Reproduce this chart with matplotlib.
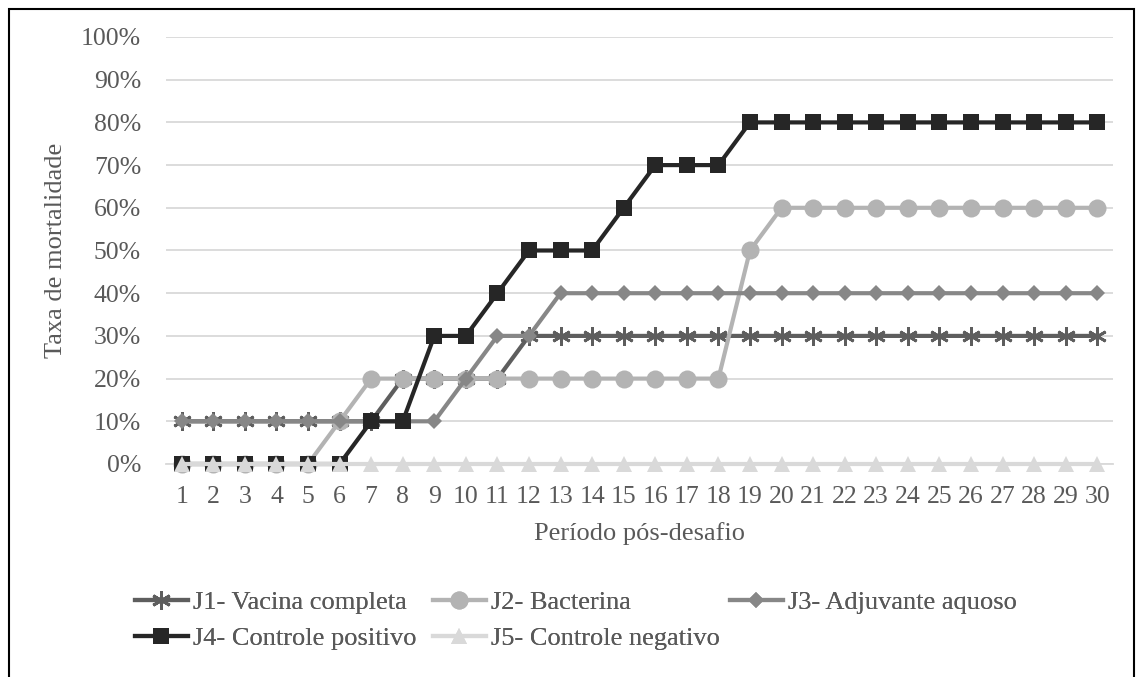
import matplotlib
matplotlib.use("Agg")
import matplotlib.pyplot as plt
from matplotlib.patches import Rectangle
from matplotlib.ticker import PercentFormatter

days = list(range(1, 31))
j1 = [10, 10, 10, 10, 10, 10, 10, 20, 20, 20, 20, 30, 30, 30, 30, 30, 30, 30, 30, 30,
      30, 30, 30, 30, 30, 30, 30, 30, 30, 30]
j2 = [0, 0, 0, 0, 0, 10, 20, 20, 20, 20, 20, 20, 20, 20, 20, 20, 20, 20, 50, 60,
      60, 60, 60, 60, 60, 60, 60, 60, 60, 60]
j3 = [10, 10, 10, 10, 10, 10, 10, 10, 10, 20, 30, 30, 40, 40, 40, 40, 40, 40, 40, 40,
      40, 40, 40, 40, 40, 40, 40, 40, 40, 40]
j4 = [0, 0, 0, 0, 0, 0, 10, 10, 30, 30, 40, 50, 50, 50, 60, 70, 70, 70, 80, 80,
      80, 80, 80, 80, 80, 80, 80, 80, 80, 80]
j5 = [0] * 30
labels = ["J1- Vacina completa", "J2- Bacterina", "J3- Adjuvante aquoso",
          "J4- Controle positivo", "J5- Controle negativo"]

plt.rcParams['font.family'] = ['Liberation Serif', 'DejaVu Serif']
txt = '#595959'
FS_TICK = 18.5
FS = 19

fig = plt.figure(figsize=(11.36, 6.77), dpi=100)
ax = fig.add_axes([166/1136, 1-464/677, (1113-166)/1136, (464-37)/677])

styles = [
    dict(color='#5e5e5e', marker=(6, 2, 0), ms=13.5, mew=2.0),
    dict(color='#b3b3b3', marker='o', ms=13, mew=0),
    dict(color='#878787', marker='D', ms=8.5, mew=0),
    dict(color='#262626', marker='s', ms=11, mew=0),
    dict(color='#d9d9d9', marker='^', ms=12, mew=0),
]
series = [j1, j2, j3, j4, j5]
handles = []
for i, (s, lab, st) in enumerate(zip(series, labels, styles)):
    h, = ax.plot(days, s, lw=3, label=lab, color=st['color'], marker=st['marker'],
                 markersize=st['ms'], markeredgewidth=st['mew'],
                 markeredgecolor=st['color'], markerfacecolor=st['color'],
                 zorder=3 + i, clip_on=False)
    handles.append(h)

ax.set_xlim(0.5, 30.5)
ax.set_ylim(0, 100)
ax.set_yticks(range(0, 101, 10))
ax.yaxis.set_major_formatter(PercentFormatter(decimals=0))
ax.set_xticks(days)
ax.set_xticklabels([str(d) for d in days])
ax.grid(axis='y', color='#d9d9d9', lw=1.3)
ax.set_axisbelow(True)
for sp in ['top', 'right', 'left']:
    ax.spines[sp].set_visible(False)
ax.spines['bottom'].set_color('#d9d9d9')
ax.spines['bottom'].set_linewidth(1.3)
ax.tick_params(axis='both', length=0, labelsize=FS_TICK, colors=txt)
ax.tick_params(axis='x', pad=16)
ax.tick_params(axis='y', pad=18)
ax.set_xlabel('Período pós-desafio', fontsize=FS, color=txt, labelpad=10)
ax.set_ylabel('Taxa de mortalidade', fontsize=FS, color=txt, labelpad=10)

positions = [(135, 602), (433, 602), (730, 602), (135, 638), (433, 638)]
for h, lab, (px, py) in zip(handles, labels, positions):
    leg = fig.legend([h], [lab], loc='center left',
                     bbox_to_anchor=(px/1136, 1 - py/677),
                     frameon=False, fontsize=FS, handlelength=2.0,
                     handletextpad=0.2, borderpad=0, borderaxespad=0,
                     labelcolor=txt)
    fig.add_artist(leg)

fig.add_artist(Rectangle((9/1136, -0.01), (1134-9)/1136, 1 - 9/677 + 0.01,
                         transform=fig.transFigure, fill=False, ec='black', lw=1.5))

fig.savefig('out.png', dpi=100)
